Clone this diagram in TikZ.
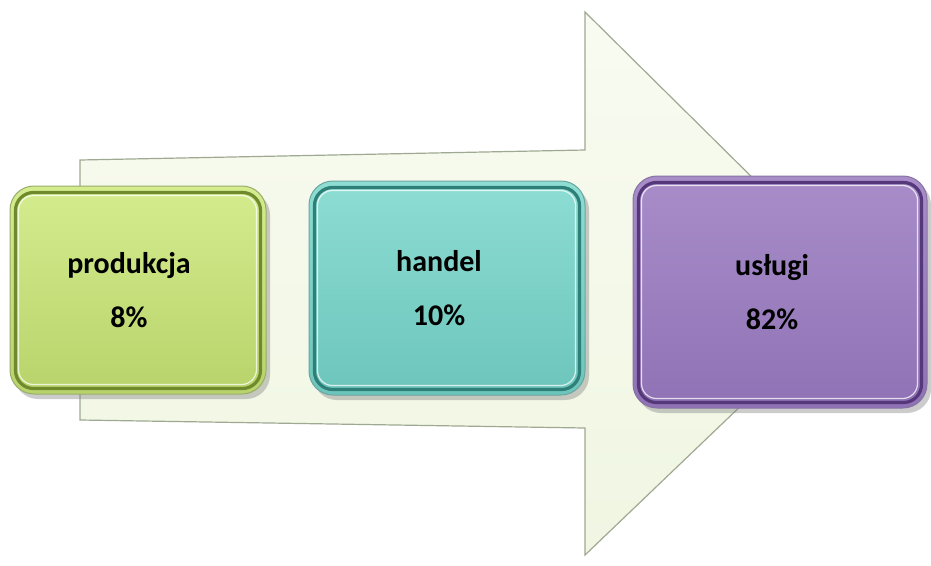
\documentclass[tikz,border=0pt]{standalone}
\usepackage{fontspec}
\setmainfont{Carlito}
\usetikzlibrary{shadows}

\definecolor{arrowtop}{HTML}{F8FBF1}
\definecolor{arrowbot}{HTML}{F0F6E2}
\definecolor{arrowedge}{HTML}{9FA992}
\definecolor{prodtop}{HTML}{D5EC8E}
\definecolor{prodbot}{HTML}{B8D36B}
\definecolor{prodedge}{HTML}{6E8A2C}
\definecolor{handtop}{HTML}{8DDDD3}
\definecolor{handbot}{HTML}{6CC5BB}
\definecolor{handedge}{HTML}{2F7F79}
\definecolor{uslutop}{HTML}{A88DC9}
\definecolor{uslubot}{HTML}{8F72B5}
\definecolor{usluedge}{HTML}{54387A}

\begin{document}
\begin{tikzpicture}[x=1pt, y=-1pt,
  box/.style={rectangle, rounded corners=24pt, line width=1pt, inner sep=0pt,
    drop shadow={opacity=.4, shadow xshift=4pt, shadow yshift=-5pt}},
  lbl/.style={align=center, font=\fontsize{30}{54}\selectfont\bfseries}]
  \useasboundingbox (0,0) rectangle (931,565);

  % === big arrow in the back ===
  \draw[arrowedge, line width=1.2pt, top color=arrowtop, bottom color=arrowbot]
    (80,160) -- (585,150) -- (585,12) -- (864,288) -- (585,555)
    -- (585,428) -- (80,420) -- cycle;

  % === three boxes ===
  \node[box, draw=prodedge!70, top color=prodtop, bottom color=prodbot,
    minimum width=256pt, minimum height=208pt] (prod) at (138,290) {};
  \node[box, draw=handedge!70, top color=handtop, bottom color=handbot,
    minimum width=276pt, minimum height=214pt] (hand) at (447,288) {};
  \node[box, draw=usluedge!70, top color=uslutop, bottom color=uslubot,
    minimum width=294pt, minimum height=232pt] (uslu) at (780,292) {};

  % bevel rings
  \foreach \n/\c in {prod/prodedge, hand/handedge, uslu/usluedge}{
    \draw[\c, line width=3.2pt, rounded corners=18pt]
      ([shift={(6,7)}]\n.north west) rectangle ([shift={(-6,-6)}]\n.south east);
    \draw[white, opacity=.75, line width=1.2pt, rounded corners=15pt]
      ([shift={(9,10)}]\n.north west) rectangle ([shift={(-10,-10)}]\n.south east);
  }

  % texts, a little left of the centres
  \node[lbl] (prodtxt) at ([xshift=-9pt]prod.center) {produkcja\\8\%};
  \node[lbl] (handtxt) at ([xshift=-8pt]hand.center) {handel\\10\%};
  \node[lbl] (uslutxt) at ([xshift=-8pt]uslu.center) {usługi\\82\%};
\end{tikzpicture}
\end{document}
